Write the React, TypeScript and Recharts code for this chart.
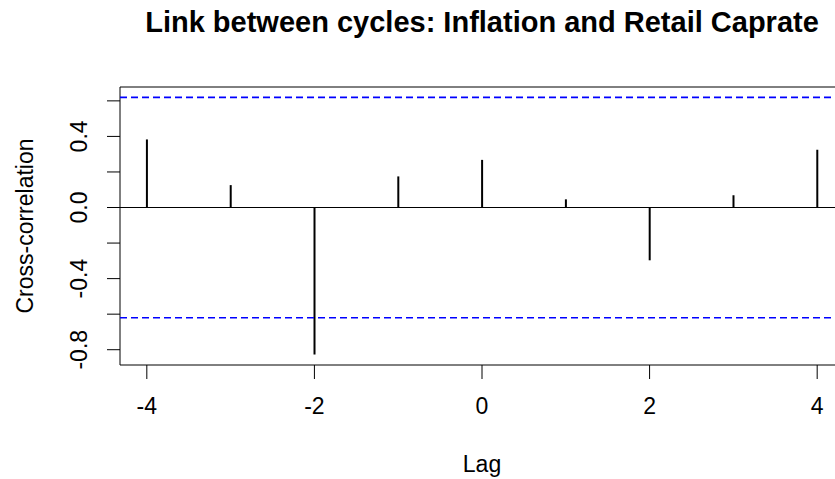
import React from 'react';
import {
  ComposedChart,
  Bar,
  XAxis,
  YAxis,
  ReferenceLine,
  ReferenceArea,
} from 'recharts';

// cross-correlation by lag
const lags = [-4, -3, -2, -1, 0, 1, 2, 3, 4];
const ccfValues = [0.383, 0.126, -0.827, 0.175, 0.268, 0.046, -0.297, 0.069, 0.325];

// 95% band, 1.96 / sqrt(10)
const ciLimit = 0.6198;

const xTicks = [-4, -2, 0, 2, 4];
const yTicks = [-0.8, -0.6, -0.4, -0.2, 0, 0.2, 0.4, 0.6];
const yLabelled = [-0.8, -0.4, 0, 0.4];

const X_DOMAIN: [number, number] = [-4.32, 4.32];
const Y_DOMAIN: [number, number] = [-0.886, 0.678];

const FONT = '"Liberation Sans", Arial, sans-serif';

const data = lags.map((lag, i) => ({ lag, value: ccfValues[i] }));

const YTick = (props: any) => {
  const { x, y, payload } = props;
  const v = payload.value;
  if (!yLabelled.some((t) => Math.abs(t - v) < 1e-9)) return null;
  return (
    <text
      x={x}
      y={y}
      transform={`rotate(-90, ${x}, ${y})`}
      textAnchor="middle"
      fontSize={23}
      fontFamily={FONT}
      fill="#000"
    >
      {v.toFixed(1)}
    </text>
  );
};

const XTick = (props: any) => {
  const { x, y, payload } = props;
  return (
    <text x={x} y={y} dy="0.71em" textAnchor="middle" fontSize={23} fontFamily={FONT} fill="#000">
      {payload.value}
    </text>
  );
};

export default function App() {
  return (
    <div style={{ position: 'absolute', left: 0, top: 0, width: 835, height: 479, overflow: 'hidden', background: '#fff' }}>
      <div
        style={{
          position: 'absolute',
          left: 120,
          top: 8,
          width: 724,
          textAlign: 'center',
          fontFamily: FONT,
          fontWeight: 'bold',
          fontSize: 29,
          lineHeight: '29px',
          color: '#000',
          whiteSpace: 'nowrap',
        }}
      >
        Link between cycles: Inflation and Retail Caprate
      </div>
      <ComposedChart
        width={870}
        height={479}
        data={data}
        margin={{ top: 87, right: 26, bottom: 0, left: 0 }}
      >
        <XAxis
          dataKey="lag"
          type="number"
          domain={X_DOMAIN}
          ticks={xTicks}
          allowDataOverflow
          height={114}
          axisLine={false}
          tickLine={{ stroke: '#000', strokeWidth: 1 }}
          tickSize={14}
          tickMargin={19}
          tick={<XTick />}
          label={(p: any) => {
            const vb = p.viewBox;
            return (
              <text
                x={vb.x + vb.width / 2}
                y={vb.y + 107}
                textAnchor="middle"
                fontSize={23}
                fontFamily={FONT}
                fill="#000"
              >
                Lag
              </text>
            );
          }}
        />
        <YAxis
          type="number"
          domain={Y_DOMAIN}
          ticks={yTicks}
          allowDataOverflow
          width={120}
          axisLine={false}
          tickLine={{ stroke: '#000', strokeWidth: 1 }}
          tickSize={13}
          tickMargin={20}
          tick={<YTick />}
          interval={0}
          label={(p: any) => {
            const vb = p.viewBox;
            const cx = 33;
            const cy = vb.y + vb.height / 2;
            return (
              <text
                x={cx}
                y={cy}
                transform={`rotate(-90, ${cx}, ${cy})`}
                textAnchor="middle"
                fontSize={23}
                fontFamily={FONT}
                fill="#000"
              >
                Cross-correlation
              </text>
            );
          }}
        />
        <ReferenceArea
          x1={X_DOMAIN[0]}
          x2={X_DOMAIN[1]}
          y1={Y_DOMAIN[0]}
          y2={Y_DOMAIN[1]}
          fill="none"
          fillOpacity={0}
          stroke="#000"
          strokeWidth={1}
        />
        <ReferenceLine y={0} stroke="#000" strokeWidth={1} />
        <ReferenceLine y={ciLimit} stroke="#0000ff" strokeWidth={1.6} strokeDasharray="7 4" />
        <ReferenceLine y={-ciLimit} stroke="#0000ff" strokeWidth={1.6} strokeDasharray="7 4" />
        <Bar dataKey="value" fill="#000" barSize={2} isAnimationActive={false} />
      </ComposedChart>
    </div>
  );
}
